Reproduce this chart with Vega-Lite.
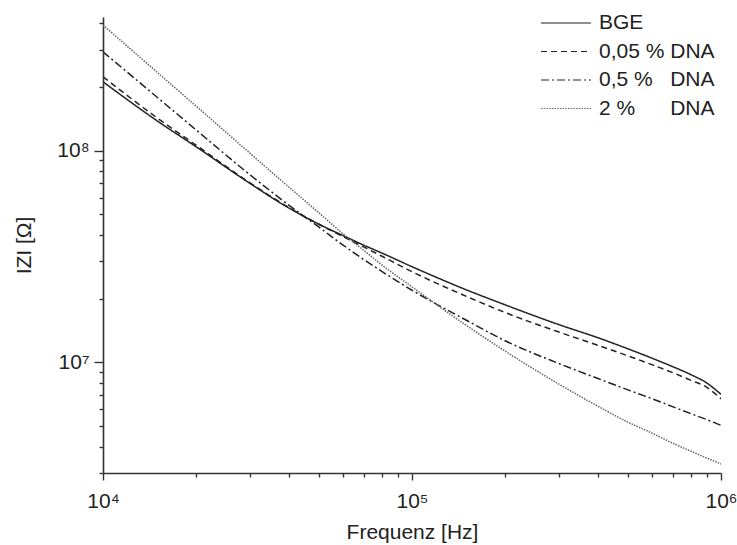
{
  "$schema": "https://vega.github.io/schema/vega-lite/v6.json",
  "width": 618,
  "height": 456,
  "autosize": "none",
  "padding": {"left": 103, "top": 17, "right": 16, "bottom": 72},
  "background": "white",
  "config": {
    "view": {"stroke": null},
    "font": "Liberation Sans"
  },
  "datasets": {
    "curves": [
      {"f": 10000, "z": 211500000, "s": "BGE"},
      {"f": 15000, "z": 138000000, "s": "BGE"},
      {"f": 20000, "z": 104400000, "s": "BGE"},
      {"f": 30000, "z": 69800000, "s": "BGE"},
      {"f": 40000, "z": 53500000, "s": "BGE"},
      {"f": 50000, "z": 44900000, "s": "BGE"},
      {"f": 60000, "z": 39600000, "s": "BGE"},
      {"f": 70000, "z": 35700000, "s": "BGE"},
      {"f": 80000, "z": 32800000, "s": "BGE"},
      {"f": 100000, "z": 28300000, "s": "BGE"},
      {"f": 150000, "z": 22000000, "s": "BGE"},
      {"f": 200000, "z": 18700000, "s": "BGE"},
      {"f": 300000, "z": 15040000, "s": "BGE"},
      {"f": 400000, "z": 13060000, "s": "BGE"},
      {"f": 500000, "z": 11580000, "s": "BGE"},
      {"f": 600000, "z": 10440000, "s": "BGE"},
      {"f": 700000, "z": 9520000, "s": "BGE"},
      {"f": 800000, "z": 8740000, "s": "BGE"},
      {"f": 900000, "z": 7980000, "s": "BGE"},
      {"f": 1000000, "z": 7060000, "s": "BGE"},

      {"f": 10000, "z": 223400000, "s": "0,05 % DNA"},
      {"f": 15000, "z": 142500000, "s": "0,05 % DNA"},
      {"f": 20000, "z": 106200000, "s": "0,05 % DNA"},
      {"f": 30000, "z": 70200000, "s": "0,05 % DNA"},
      {"f": 40000, "z": 53800000, "s": "0,05 % DNA"},
      {"f": 50000, "z": 44900000, "s": "0,05 % DNA"},
      {"f": 60000, "z": 39200000, "s": "0,05 % DNA"},
      {"f": 70000, "z": 35000000, "s": "0,05 % DNA"},
      {"f": 80000, "z": 31700000, "s": "0,05 % DNA"},
      {"f": 100000, "z": 26800000, "s": "0,05 % DNA"},
      {"f": 150000, "z": 20500000, "s": "0,05 % DNA"},
      {"f": 200000, "z": 17200000, "s": "0,05 % DNA"},
      {"f": 300000, "z": 13870000, "s": "0,05 % DNA"},
      {"f": 400000, "z": 12030000, "s": "0,05 % DNA"},
      {"f": 500000, "z": 10730000, "s": "0,05 % DNA"},
      {"f": 600000, "z": 9730000, "s": "0,05 % DNA"},
      {"f": 700000, "z": 8920000, "s": "0,05 % DNA"},
      {"f": 800000, "z": 8220000, "s": "0,05 % DNA"},
      {"f": 900000, "z": 7620000, "s": "0,05 % DNA"},
      {"f": 1000000, "z": 6720000, "s": "0,05 % DNA"},

      {"f": 10000, "z": 293000000, "s": "0,5 % DNA"},
      {"f": 15000, "z": 178300000, "s": "0,5 % DNA"},
      {"f": 20000, "z": 125400000, "s": "0,5 % DNA"},
      {"f": 30000, "z": 76600000, "s": "0,5 % DNA"},
      {"f": 40000, "z": 55200000, "s": "0,5 % DNA"},
      {"f": 50000, "z": 43500000, "s": "0,5 % DNA"},
      {"f": 60000, "z": 35700000, "s": "0,5 % DNA"},
      {"f": 70000, "z": 30500000, "s": "0,5 % DNA"},
      {"f": 80000, "z": 26850000, "s": "0,5 % DNA"},
      {"f": 100000, "z": 21900000, "s": "0,5 % DNA"},
      {"f": 150000, "z": 15800000, "s": "0,5 % DNA"},
      {"f": 200000, "z": 12650000, "s": "0,5 % DNA"},
      {"f": 300000, "z": 9850000, "s": "0,5 % DNA"},
      {"f": 400000, "z": 8380000, "s": "0,5 % DNA"},
      {"f": 500000, "z": 7410000, "s": "0,5 % DNA"},
      {"f": 600000, "z": 6720000, "s": "0,5 % DNA"},
      {"f": 700000, "z": 6160000, "s": "0,5 % DNA"},
      {"f": 800000, "z": 5720000, "s": "0,5 % DNA"},
      {"f": 900000, "z": 5360000, "s": "0,5 % DNA"},
      {"f": 1000000, "z": 5040000, "s": "0,5 % DNA"},

      {"f": 10000, "z": 392000000, "s": "2 % DNA"},
      {"f": 15000, "z": 234000000, "s": "2 % DNA"},
      {"f": 20000, "z": 162500000, "s": "2 % DNA"},
      {"f": 30000, "z": 96800000, "s": "2 % DNA"},
      {"f": 40000, "z": 67200000, "s": "2 % DNA"},
      {"f": 50000, "z": 50800000, "s": "2 % DNA"},
      {"f": 60000, "z": 40300000, "s": "2 % DNA"},
      {"f": 70000, "z": 33700000, "s": "2 % DNA"},
      {"f": 80000, "z": 28800000, "s": "2 % DNA"},
      {"f": 100000, "z": 22730000, "s": "2 % DNA"},
      {"f": 150000, "z": 14930000, "s": "2 % DNA"},
      {"f": 200000, "z": 11310000, "s": "2 % DNA"},
      {"f": 300000, "z": 7860000, "s": "2 % DNA"},
      {"f": 400000, "z": 6200000, "s": "2 % DNA"},
      {"f": 500000, "z": 5215000, "s": "2 % DNA"},
      {"f": 600000, "z": 4620000, "s": "2 % DNA"},
      {"f": 700000, "z": 4140000, "s": "2 % DNA"},
      {"f": 800000, "z": 3800000, "s": "2 % DNA"},
      {"f": 900000, "z": 3530000, "s": "2 % DNA"},
      {"f": 1000000, "z": 3310000, "s": "2 % DNA"}
    ]
  },
  "data": {"name": "curves"},
  "mark": {"type": "line", "interpolate": "monotone", "clip": true},
  "encoding": {
    "x": {
      "field": "f",
      "type": "quantitative",
      "scale": {"type": "log", "domain": [10000, 1000000], "nice": false},
      "axis": {
        "title": "Frequenz [Hz]",
        "titleFont": "Liberation Sans",
        "titleFontSize": 21,
        "titleFontWeight": "normal",
        "titleColor": "#222",
        "titlePadding": 10,
        "values": [10000, 20000, 30000, 40000, 50000, 60000, 70000, 80000, 90000, 100000, 200000, 300000, 400000, 500000, 600000, 700000, 800000, 900000, 1000000],
        "labelExpr": "datum.value == 10000 ? '10⁴' : datum.value == 100000 ? '10⁵' : datum.value == 1000000 ? '10⁶' : ''",
        "labelFont": "Liberation Sans",
        "labelFontSize": 21,
        "labelColor": "#222",
        "labelPadding": 10,
        "labelFlush": false,
        "labelOverlap": false,
        "grid": false,
        "domainColor": "#333",
        "domainWidth": 1.6,
        "tickColor": "#333",
        "tickWidth": 1.4,
        "tickSize": {"condition": {"test": "datum.value == 10000 || datum.value == 100000 || datum.value == 1000000", "value": 7}, "value": 4}
      }
    },
    "y": {
      "field": "z",
      "type": "quantitative",
      "scale": {"type": "log", "domain": [3000000, 428000000], "nice": false},
      "axis": {
        "title": "IZI [Ω]",
        "titleFont": "Liberation Sans",
        "titleFontSize": 21,
        "titleFontWeight": "normal",
        "titleColor": "#222",
        "titlePadding": 22,
        "values": [3000000, 4000000, 5000000, 6000000, 7000000, 8000000, 9000000, 10000000, 20000000, 30000000, 40000000, 50000000, 60000000, 70000000, 80000000, 90000000, 100000000, 200000000, 300000000, 400000000],
        "labelExpr": "datum.value == 10000000 ? '10⁷' : datum.value == 100000000 ? '10⁸' : ''",
        "labelFont": "Liberation Sans",
        "labelFontSize": 21,
        "labelColor": "#222",
        "labelPadding": 5,
        "labelFlush": false,
        "labelOverlap": false,
        "grid": false,
        "domainColor": "#333",
        "domainWidth": 1.6,
        "tickColor": "#333",
        "tickWidth": 1.4,
        "tickSize": {"condition": {"test": "datum.value == 10000000 || datum.value == 100000000", "value": 9}, "value": 4}
      }
    },
    "strokeDash": {
      "field": "s",
      "type": "nominal",
      "scale": {
        "domain": ["BGE", "0,05 % DNA", "0,5 % DNA", "2 % DNA"],
        "range": [[1, 0], [6, 4], [8, 3, 2, 3], [1.5, 1.2]]
      },
      "legend": {
        "title": null,
        "orient": "none",
        "legendX": 437,
        "legendY": -4,
        "padding": 0,
        "symbolType": "stroke",
        "symbolSize": 2500,
        "symbolStrokeWidth": 1.2,
        "clipHeight": 20,
        "labelOffset": 7,
        "labelFont": "Liberation Sans",
        "labelFontSize": 21,
        "labelColor": "#222",
        "rowPadding": 7.5,
        "labelExpr": "datum.label == '0,05 % DNA' ? '0,05\u00a0%\u00a0DNA' : datum.label == '0,5 % DNA' ? '0,5\u00a0%\u00a0\u00a0\u00a0DNA' : datum.label == '2 % DNA' ? '2\u00a0%\u00a0\u00a0\u00a0\u00a0\u00a0\u00a0DNA' : datum.label"
      }
    },
    "color": {
      "field": "s",
      "type": "nominal",
      "scale": {
        "domain": ["BGE", "0,05 % DNA", "0,5 % DNA", "2 % DNA"],
        "range": ["#222222", "#222222", "#222222", "#666666"]
      },
      "legend": {
        "title": null,
        "orient": "none",
        "legendX": 437,
        "legendY": -4,
        "padding": 0,
        "symbolType": "stroke",
        "symbolSize": 2500,
        "symbolStrokeWidth": 1.2,
        "clipHeight": 20,
        "labelOffset": 7,
        "labelFont": "Liberation Sans",
        "labelFontSize": 21,
        "labelColor": "#222",
        "rowPadding": 7.5,
        "labelExpr": "datum.label == '0,05 % DNA' ? '0,05\u00a0%\u00a0DNA' : datum.label == '0,5 % DNA' ? '0,5\u00a0%\u00a0\u00a0\u00a0DNA' : datum.label == '2 % DNA' ? '2\u00a0%\u00a0\u00a0\u00a0\u00a0\u00a0\u00a0DNA' : datum.label"
      }
    },
    "strokeWidth": {"value": 1.5}
  }
}
